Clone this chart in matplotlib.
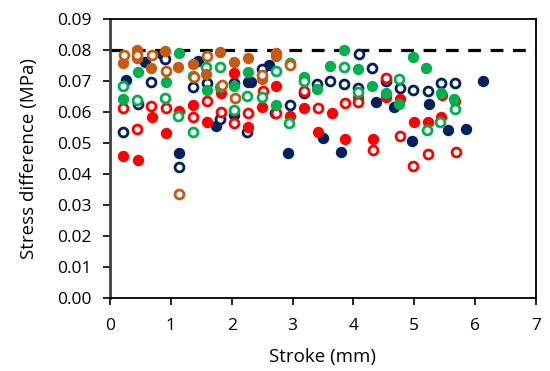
import numpy as np
import matplotlib
matplotlib.use('Agg')
import matplotlib.pyplot as plt

plt.rcParams['font.family'] = ['Open Sans', 'DejaVu Sans']

# navy
navy_fill_x = [0.575, 0.85, 1.45, 0.27, 2.27, 1.74, 2.03, 1.14, 2.32, 2.62, 4.37, 3.50, 2.92, 3.79, 6.13, 4.66, 5.25, 5.55, 5.85, 4.96]
navy_fill_y = [0.0761, 0.0788, 0.0765, 0.0704, 0.0697, 0.0557, 0.0591, 0.0470, 0.0697, 0.0753, 0.0634, 0.0518, 0.0468, 0.0471, 0.0702, 0.0616, 0.0626, 0.0543, 0.0546, 0.0508]
navy_open_x = [0.90, 0.67, 1.36, 1.59, 2.03, 0.455, 1.81, 2.25, 0.22, 1.13, 2.49, 3.40, 3.18, 4.09, 4.31, 3.61, 3.85, 4.08, 4.53, 2.71, 2.96, 4.76, 4.98, 5.22, 5.44, 5.67]
navy_open_y = [0.0771, 0.0697, 0.0681, 0.0696, 0.0696, 0.0627, 0.0578, 0.0537, 0.0537, 0.0425, 0.0740, 0.0690, 0.0663, 0.0787, 0.0742, 0.0702, 0.0691, 0.0677, 0.0700, 0.0597, 0.0624, 0.0677, 0.0672, 0.0670, 0.0696, 0.0694]

# red
red_fill_x = [2.04, 1.82, 1.13, 1.37, 1.59, 0.685, 0.915, 0.22, 0.455, 2.27, 2.73, 2.50, 2.96, 3.18, 3.64, 4.08, 3.41, 3.86, 4.32, 4.53, 4.76, 5.45, 5.67, 5.00, 5.22, 5.44]
red_fill_y = [0.0728, 0.0663, 0.0605, 0.0624, 0.0570, 0.0586, 0.0532, 0.0459, 0.0446, 0.0552, 0.0686, 0.0618, 0.0588, 0.0613, 0.0599, 0.0650, 0.0535, 0.0513, 0.0513, 0.0648, 0.0643, 0.0655, 0.0637, 0.0568, 0.0570, 0.0586]
red_open_x = [0.22, 0.67, 0.915, 1.37, 1.60, 1.82, 2.04, 2.26, 0.44, 2.51, 2.72, 3.18, 3.41, 3.86, 4.08, 4.32, 4.53, 4.76, 5.22, 5.68, 4.98]
red_open_y = [0.0615, 0.0620, 0.0613, 0.0584, 0.0637, 0.0600, 0.0565, 0.0599, 0.0545, 0.0670, 0.0597, 0.0668, 0.0613, 0.0631, 0.0634, 0.0478, 0.0712, 0.0525, 0.0464, 0.0473, 0.0428]

# green
green_fill_x = [0.455, 1.13, 0.915, 1.59, 2.04, 2.27, 0.22, 2.72, 3.18, 3.40, 3.61, 3.85, 4.07, 4.30, 4.53, 4.98, 5.20, 5.44, 5.65, 4.75, 1.81]
green_fill_y = [0.0729, 0.0790, 0.0699, 0.0672, 0.0685, 0.0731, 0.0643, 0.0622, 0.0715, 0.0674, 0.0750, 0.0800, 0.0740, 0.0685, 0.0661, 0.0777, 0.0744, 0.0661, 0.0643, 0.0627, 0.0683]
green_open_x = [1.58, 1.81, 0.22, 2.25, 0.44, 0.90, 1.11, 2.04, 1.36, 2.72, 2.95, 3.18, 3.84, 4.08, 2.50, 2.94, 4.75, 5.67, 5.42, 5.21, 1.37]
green_open_y = [0.0747, 0.0747, 0.0686, 0.0653, 0.0640, 0.0645, 0.0589, 0.0607, 0.0537, 0.0733, 0.0760, 0.0701, 0.0747, 0.0667, 0.0648, 0.0565, 0.0706, 0.0611, 0.0569, 0.0544, 0.0716]

# brown
brown_fill_x = [0.22, 0.45, 0.44, 0.67, 0.90, 1.12, 1.36, 1.58, 1.80, 2.04, 2.26, 2.73, 2.73, 2.49]
brown_fill_y = [0.0760, 0.0800, 0.0774, 0.0742, 0.0799, 0.0745, 0.0756, 0.0724, 0.0795, 0.0763, 0.0774, 0.0792, 0.0782, 0.0707]
brown_open_x = [0.23, 0.45, 0.685, 0.915, 1.60, 1.38, 1.84, 2.05, 2.96, 1.14, 2.49]
brown_open_y = [0.0785, 0.0785, 0.0785, 0.0733, 0.0783, 0.0713, 0.0688, 0.0645, 0.0753, 0.0335, 0.0720]

limit = 0.08

NAVY = '#002060'
RED = '#FF0000'
GREEN = '#00B050'
BROWN = '#C55A11'

fig = plt.figure(figsize=(5.5, 3.71), dpi=100)
ax = fig.add_axes([0.2, 0.196, 0.7745, 0.752])

ax.axhline(limit, color='black', lw=2.3, dashes=(4, 3), zorder=1)

series = [
    (navy_fill_x, navy_fill_y, navy_open_x, navy_open_y, NAVY),
    (red_fill_x, red_fill_y, red_open_x, red_open_y, RED),
    (green_fill_x, green_fill_y, green_open_x, green_open_y, GREEN),
    (brown_fill_x, brown_fill_y, brown_open_x, brown_open_y, BROWN),
]
for fx, fy, ox, oy, c in series:
    ax.plot(fx, fy, 'o', ms=8.2, color=c, mew=0, zorder=3)
    ax.plot(ox, oy, 'o', ms=6.4, mfc='white', mec=c, mew=2.0, zorder=3)

ax.set_xlim(0, 7)
ax.set_ylim(0, 0.09)
ax.set_xticks(np.arange(0, 8, 1))
ax.set_yticks(np.arange(0, 0.091, 0.01))
ax.set_yticklabels(['%.2f' % v for v in np.arange(0, 0.091, 0.01)])
ax.tick_params(direction='out', length=5, width=1.2, labelsize=12.5, colors='black')
ax.tick_params(axis='x', pad=9)
ax.tick_params(axis='y', pad=8)
for s in ax.spines.values():
    s.set_linewidth(1.3)
ax.spines['left'].set_color('#404040')
ax.spines['left'].set_linewidth(2)

ax.set_xlabel('Stroke (mm)', fontsize=13.5, labelpad=10)
ax.set_ylabel('Stress difference (MPa)', fontsize=13.5, labelpad=14)

fig.savefig('out.png', dpi=100)
